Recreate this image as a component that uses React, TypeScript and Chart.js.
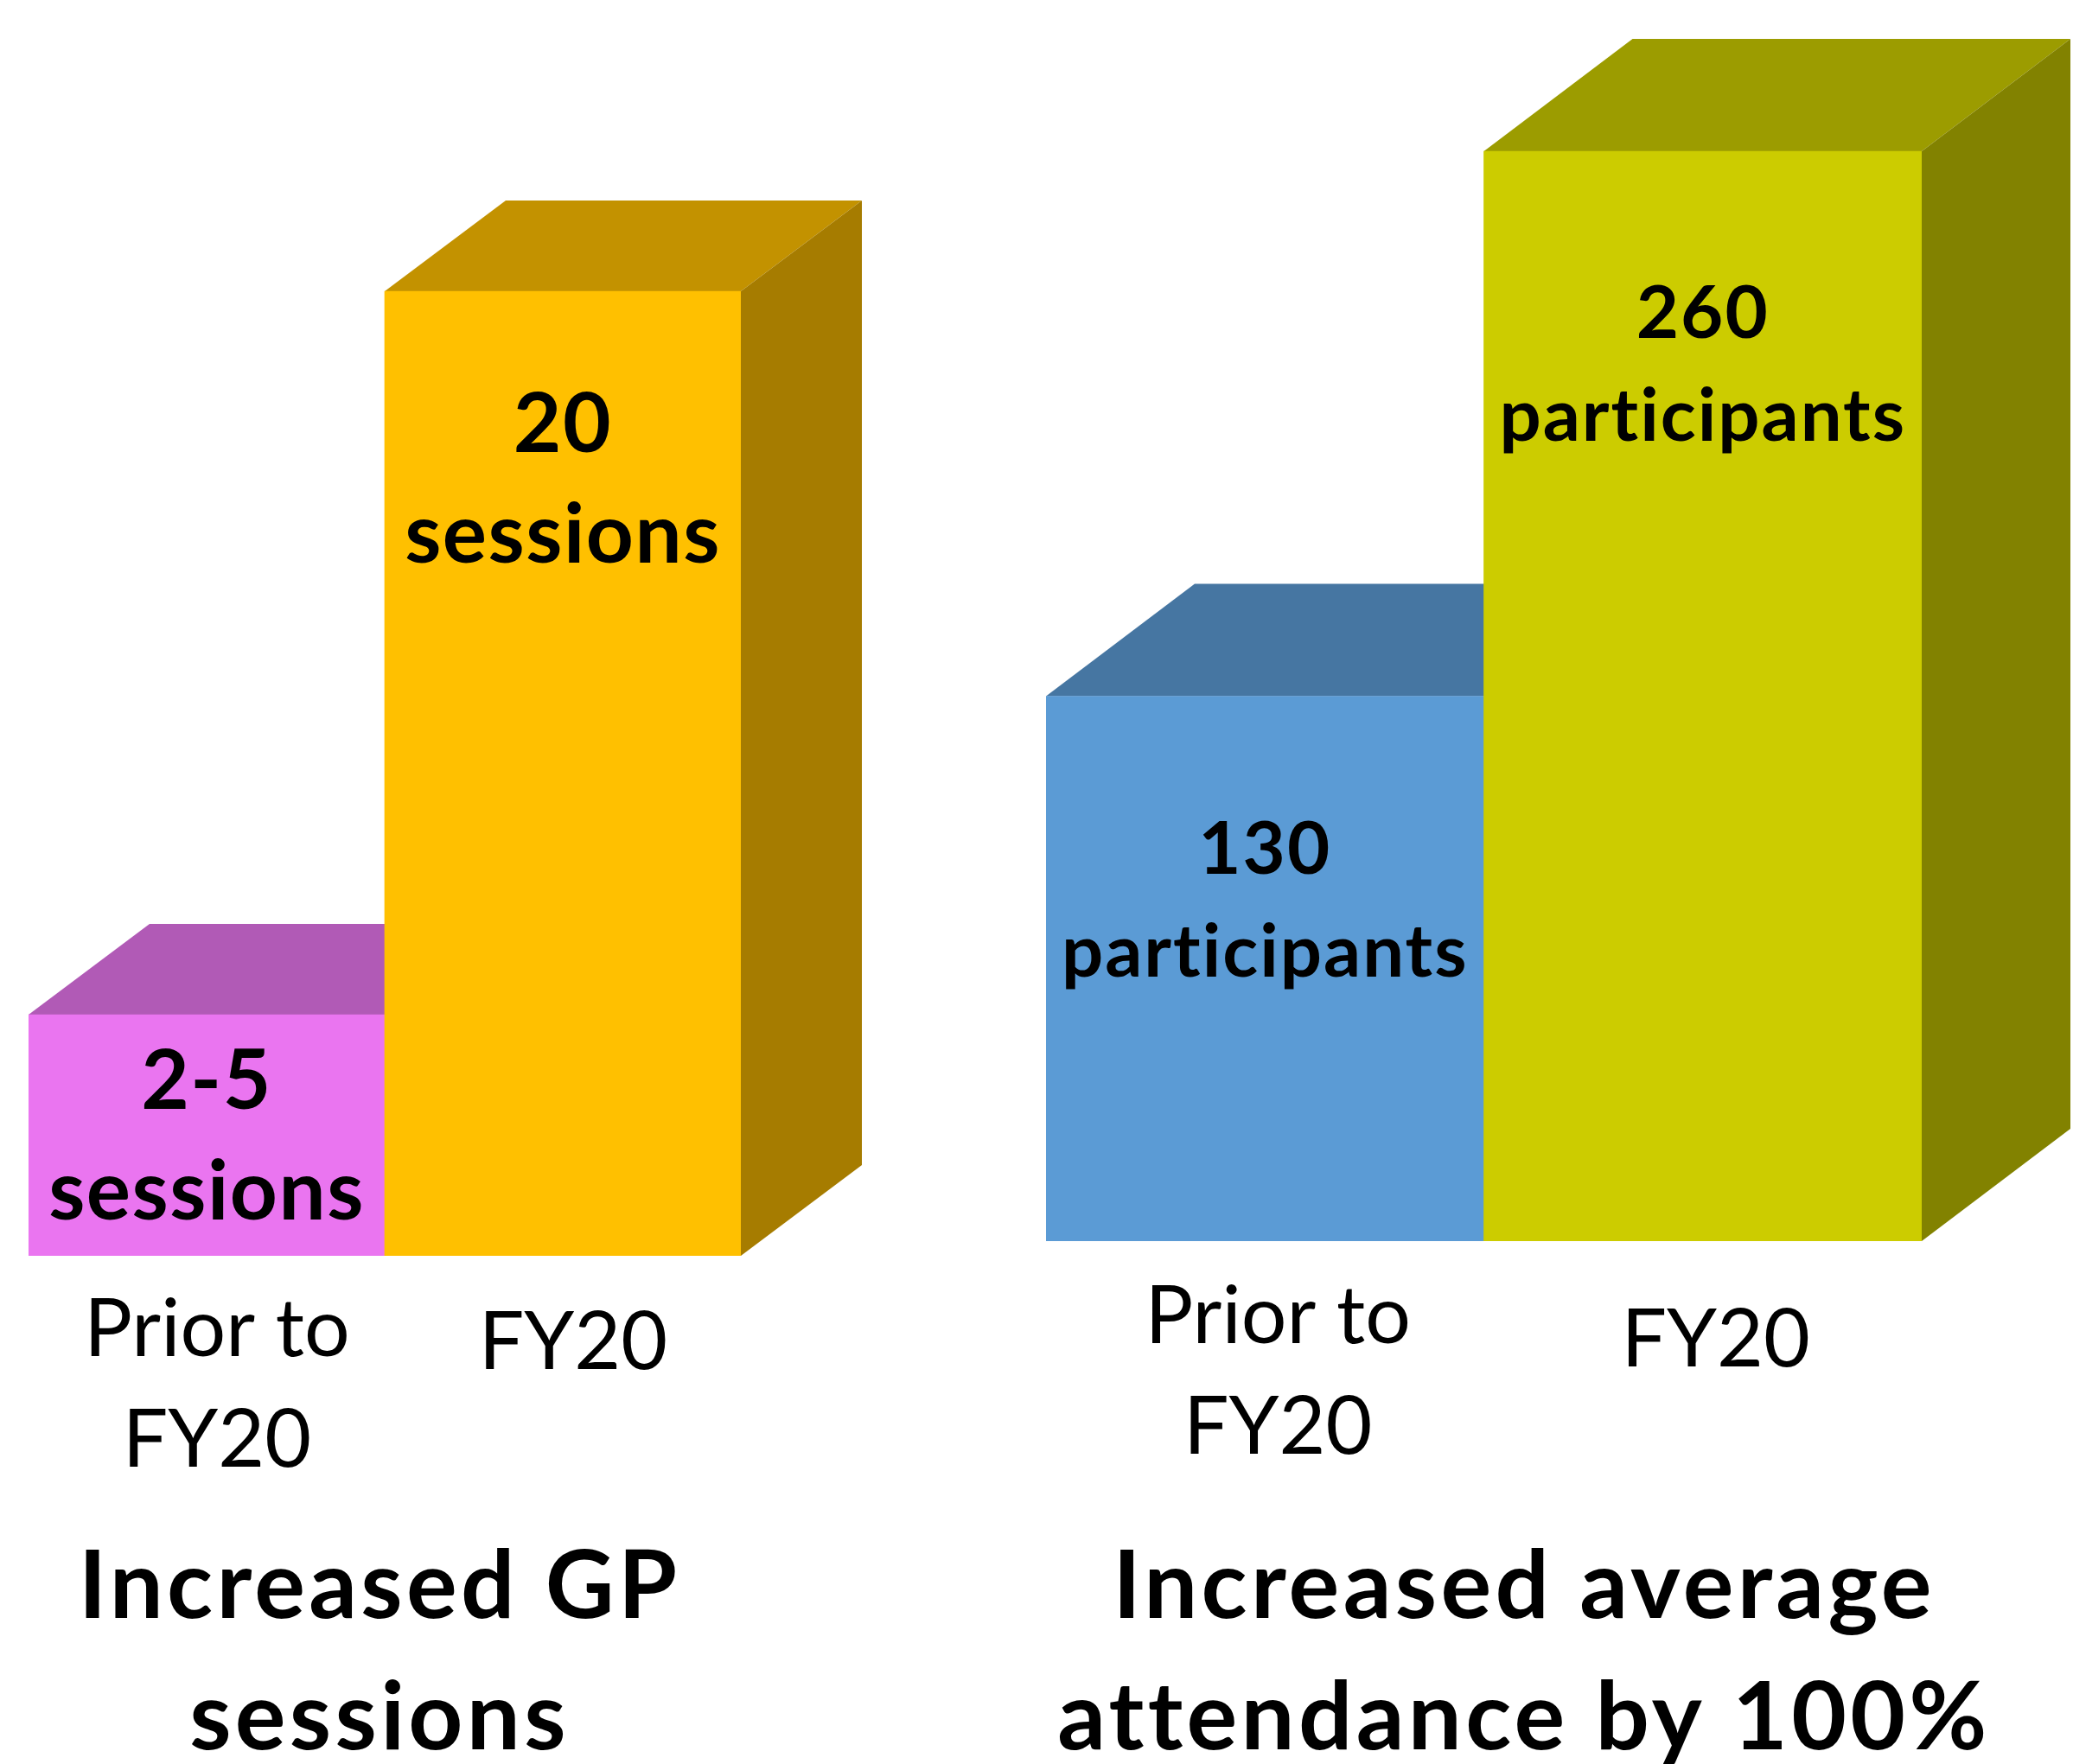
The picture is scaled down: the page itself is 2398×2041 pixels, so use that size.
import React, { useEffect, useRef } from "react";
import { Chart, registerables } from "chart.js";

Chart.register(...registerables);

// ---------------- data ----------------
const leftCategories = [["Prior to", "FY20"], "FY20"];
const leftValues = [5, 20];
const leftValueLabels = [["2-5", "sessions"], ["20", "sessions"]];
const leftTitle = ["Increased GP", "sessions"];

const rightCategories = [["Prior to", "FY20"], "FY20"];
const rightValues = [130, 260];
const rightValueLabels = [["130", "participants"], ["260", "participants"]];
const rightTitle = ["Increased average", "attendance by 100%"];

// ---------------- styles ----------------
const leftFront = ["#EA75F0", "#FFC000"];
const leftTop = ["#B15AB6", "#C39200"];
const leftSide = ["#9A4E9E", "#A67C00"];

const rightFront = ["#5B9BD5", "#CCCC00"];
const rightTop = ["#4676A2", "#9C9C00"];
const rightSide = ["#3C6890", "#828200"];

const FONT = "Lato";

const bar3dPlugin = {
  id: "bar3d",
  afterLayout(chart: any, _args: any, opts: any) {
    const tb = chart.titleBlock;
    if (tb && !tb.__spaced) {
      const orig = tb.draw.bind(tb);
      tb.draw = (...a: any[]) => {
        const ctx = chart.ctx;
        ctx.save();
        ctx.letterSpacing = opts.titleSpacing;
        orig(...a);
        ctx.restore();
      };
      tb.__spaced = true;
    }
  },
  beforeDatasetsDraw(chart: any, _args: any, opts: any) {
    const meta = chart.getDatasetMeta(0);
    const ctx = chart.ctx;
    const dx = opts.dx;
    const dy = opts.dy;
    meta.data.forEach((bar: any, i: number) => {
      const { x, y, base, width } = bar.getProps(["x", "y", "base", "width"], true);
      const l = x - width / 2;
      const r = x + width / 2;
      ctx.save();
      ctx.fillStyle = opts.topColors[i];
      ctx.beginPath();
      ctx.moveTo(l, y);
      ctx.lineTo(l + dx, y - dy);
      ctx.lineTo(r + dx, y - dy);
      ctx.lineTo(r, y);
      ctx.closePath();
      ctx.fill();
      ctx.fillStyle = opts.sideColors[i];
      ctx.beginPath();
      ctx.moveTo(r, y);
      ctx.lineTo(r + dx, y - dy);
      ctx.lineTo(r + dx, base - dy);
      ctx.lineTo(r, base);
      ctx.closePath();
      ctx.fill();
      ctx.restore();
    });
  },
  afterDatasetsDraw(chart: any, _args: any, opts: any) {
    const meta = chart.getDatasetMeta(0);
    const ctx = chart.ctx;
    meta.data.forEach((bar: any, i: number) => {
      const { x, y } = bar.getProps(["x", "y"], true);
      const lines: string[] = opts.labels[i];
      ctx.save();
      ctx.font = `bold ${opts.fontSize}px ${FONT}`;
      ctx.letterSpacing = opts.labelSpacingPx;
      ctx.fillStyle = "#000";
      ctx.textAlign = "center";
      ctx.textBaseline = "alphabetic";
      lines.forEach((t, j) => {
        ctx.fillText(t, x, y + opts.offsets[i] + j * opts.spacing);
      });
      ctx.restore();
    });
  },
};

type Props = {
  left: number;
  width: number;
  categories: any[];
  values: number[];
  valueLabels: string[][];
  title: string[];
  front: string[];
  top: string[];
  side: string[];
  yMax: number;
  padTop: number;
  leftAxisW: number;
  rightAxisW: number;
  xHeight: number;
  tickPadding: number;
  labelOffset: number;
  singleLineHeight: number;
  dx: number;
  dy: number;
  labelFont: number;
  labelSpacing: number;
  labelLetter: string;
  labelOffsets: number[];
};

const CANVAS_H = 2066;

function Bar3DChart(p: Props) {
  const ref = useRef<HTMLCanvasElement>(null);
  useEffect(() => {
    const chart = new Chart(ref.current as HTMLCanvasElement, {
      type: "bar",
      data: {
        labels: p.categories,
        datasets: [
          {
            data: p.values,
            backgroundColor: p.front,
            borderWidth: 0,
            barPercentage: 1,
            categoryPercentage: 1,
          },
        ],
      },
      options: {
        responsive: false,
        animation: false,
        layout: { padding: { top: p.padTop, left: 0, right: 0, bottom: 0 } },
        plugins: {
          legend: { display: false },
          tooltip: { enabled: false },
          title: {
            display: true,
            position: "bottom",
            text: p.title,
            color: "#000",
            font: { family: FONT, weight: "bold", size: 110, lineHeight: 152 / 110 },
            padding: { top: 0, bottom: 1.6 },
          },
          bar3d: {
            dx: p.dx,
            dy: p.dy,
            topColors: p.top,
            sideColors: p.side,
            labels: p.valueLabels,
            fontSize: p.labelFont,
            spacing: p.labelSpacing,
            labelSpacingPx: p.labelLetter,
            offsets: p.labelOffsets,
            titleSpacing: "4.3px",
          },
        } as any,
        scales: {
          x: {
            type: "category",
            position: "bottom",
            grid: { display: false },
            border: { display: false },
            ticks: {
              color: "#000",
              padding: p.tickPadding,
              labelOffset: p.labelOffset,
              maxRotation: 0,
              autoSkip: false,
              font: (c: any) => ({
                family: FONT,
                size: 93,
                lineHeight: (c.index === 1 ? p.singleLineHeight : 128) / 93,
              }),
            },
            afterFit: (s: any) => {
              s.height = p.xHeight;
            },
          },
          y: {
            type: "linear",
            position: "left",
            min: 0,
            max: p.yMax,
            grid: { display: false },
            border: { display: false },
            ticks: { display: false },
            afterFit: (s: any) => {
              s.width = p.leftAxisW;
            },
          },
          y2: {
            type: "linear",
            position: "right",
            min: 0,
            max: 1,
            grid: { display: false },
            border: { display: false },
            ticks: { display: false },
            afterFit: (s: any) => {
              s.width = p.rightAxisW;
            },
          },
        } as any,
      },
      plugins: [bar3dPlugin],
    });
    return () => chart.destroy();
  }, []);
  return (
    <canvas
      ref={ref}
      width={p.width}
      height={CANVAS_H}
      style={{ position: "absolute", left: p.left, top: 0, width: p.width, height: CANVAS_H }}
    />
  );
}

export default function App() {
  return (
    <div
      style={{
        position: "absolute",
        left: 0,
        top: 0,
        width: 2398,
        height: 2041,
        overflow: "hidden",
        background: "#ffffff",
      }}
    >
      <Bar3DChart
        left={-140}
        width={1158}
        categories={leftCategories}
        values={leftValues}
        valueLabels={leftValueLabels}
        title={leftTitle}
        front={leftFront}
        top={leftTop}
        side={leftSide}
        yMax={25}
        padTop={58}
        leftAxisW={173}
        rightAxisW={161}
        xHeight={307.4}
        tickPadding={14}
        labelOffset={12}
        singleLineHeight={158}
        dx={140}
        dy={105}
        labelFont={96}
        labelSpacing={128}
        labelLetter="1.5px"
        labelOffsets={[109, 186]}
      />
      <Bar3DChart
        left={1100}
        width={1326}
        categories={rightCategories}
        values={rightValues}
        valueLabels={rightValueLabels}
        title={rightTitle}
        front={rightFront}
        top={rightTop}
        side={rightSide}
        yMax={290}
        padTop={29.5}
        leftAxisW={110}
        rightAxisW={203}
        xHeight={324.4}
        tickPadding={16}
        labelOffset={15}
        singleLineHeight={181}
        dx={172}
        dy={130}
        labelFont={85}
        labelSpacing={118.5}
        labelLetter="2px"
        labelOffsets={[205.5, 216]}
      />
    </div>
  );
}
